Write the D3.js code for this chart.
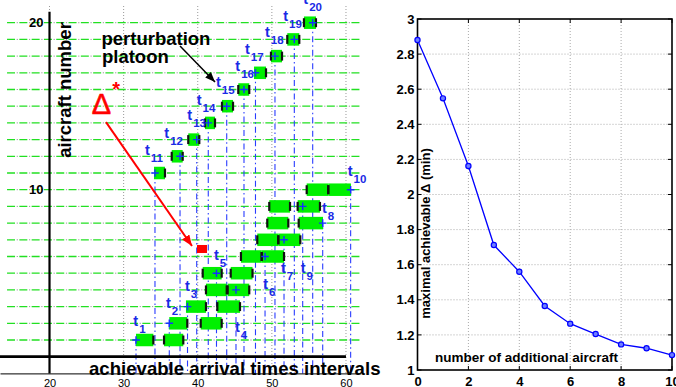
<!DOCTYPE html>
<html><head><meta charset="utf-8">
<script src="https://cdn.jsdelivr.net/npm/d3@7"></script>
<style>
body{margin:0;background:#fff;}
svg{display:block;font-family:"Liberation Sans",Arial,sans-serif;}
</style></head><body>
<svg id="c" width="676" height="387"></svg>
<script>
// ---------- Left panel data (aircraft number vs achievable arrival times) ----------
const aircraft = [1,2,3,4,5,6,7,8,9,10,11,12,13,14,15,16,17,18,19,20];
const assignedTime = [31.67,36.16,38.62,45.16,42.53,49.08,51.64,56.86,54.16,60.63,
                      34.23,37.61,39.86,41.42,43.91,46.24,47.79,50.42,53.03,55.51];
const interval1Start = [31.67,36.16,38.41,41.11,40.67,45.83,48.03,49.38,49.65,54.70,
                        34.10,36.49,38.72,40.98,43.27,45.47,47.59,49.88,52.08,54.33];
const interval1End   = [34.01,38.59,41.11,43.91,43.23,48.63,50.87,52.22,52.45,57.61,
                        35.58,37.97,40.21,42.33,44.76,46.95,49.21,51.37,53.70,55.95];
const interval2Start = [35.45,40.40,42.64,44.04,44.45,48.63,50.87,53.62,53.48,57.61,
                        null,null,null,null,null,null,null,null,null,null];
const interval2End   = [38.05,43.23,45.70,46.95,47.39,51.64,53.84,56.90,56.49,60.67,
                        null,null,null,null,null,null,null,null,null,null];
const labelX = [31.31,35.72,38.28,45.03,42.19,48.84,51.23,56.76,53.89,60.23,
                32.88,35.49,38.59,39.86,42.46,45.07,46.37,49.07,51.54,54.24];
const labelY = [1.84,2.92,3.93,1.50,5.82,4.05,5.01,8.62,5.03,10.82,
                12.08,13.08,14.17,15.07,16.15,17.13,18.13,19.13,20.12,21.12];
const leftXTicks = [20,30,40,50,60];
const leftYTicks = [10,20];
const redArrowX = [27.62,39.22], redArrowY = [14.05,6.63];
const blackArrowX = [37.61,42.33], blackArrowY = [18.60,16.45];
const perturbX = [39.90,41.25], perturbY = 6.45;

// ---------- Right panel data ----------
const additional = [0,1,2,3,4,5,6,7,8,9,10];
const maxDelta = [2.88,2.548,2.162,1.712,1.56,1.365,1.264,1.205,1.146,1.124,1.085];
const rightXTicks = [0,2,4,6,8,10];
const rightYTicks = [1,1.2,1.4,1.6,1.8,2,2.2,2.4,2.6,2.8,3];

const svg = d3.select("#c");
const defs = svg.append("defs");
defs.append("marker").attr("id","redHead").attr("markerUnits","userSpaceOnUse")
  .attr("viewBox","0 0 10 8").attr("refX",10).attr("refY",4)
  .attr("markerWidth",11).attr("markerHeight",9).attr("orient","auto")
  .append("path").attr("d","M0,0L10,4L0,8Z").attr("fill","#ff0000");
defs.append("marker").attr("id","blackHead").attr("markerUnits","userSpaceOnUse")
  .attr("viewBox","0 0 10 8").attr("refX",10).attr("refY",4)
  .attr("markerWidth",10).attr("markerHeight",8).attr("orient","auto")
  .append("path").attr("d","M0,0L10,4L0,8Z").attr("fill","#000");

// ---------- Left panel ----------
const xL = d3.scaleLinear().domain([13.32,62]).range([0,360.8]);
const yL = d3.scaleLinear().domain([-1,21]).range([373.4,6.0]);
const L = svg.append("g");

// vertical dotted grid
L.selectAll(".vg").data(leftXTicks).join("line")
  .attr("x1",d=>xL(d)).attr("x2",d=>xL(d)).attr("y1",yL(21)).attr("y2",yL(-1))
  .attr("stroke","#999").attr("stroke-dasharray","1,2").attr("stroke-width",1);

// horizontal row lines (gray dots + green dashes)
L.selectAll(".hg").data(aircraft).join("line")
  .attr("x1",xL(14.27)).attr("x2",xL(62)).attr("y1",d=>yL(d)).attr("y2",d=>yL(d))
  .attr("stroke","#999").attr("stroke-width",1).attr("stroke-dasharray","0,9.65,1.2,1.45");
L.selectAll(".hgg").data(aircraft).join("line")
  .attr("x1",xL(14.27)).attr("x2",xL(62)).attr("y1",d=>yL(d)).attr("y2",d=>yL(d))
  .attr("stroke","#22e022").attr("stroke-width",1.3).attr("stroke-dasharray","8,4.3");

// blue dash-dot verticals from assigned times
L.selectAll(".tv").data(aircraft).join("line")
  .attr("x1",(d,i)=>xL(assignedTime[i])).attr("x2",(d,i)=>xL(assignedTime[i]))
  .attr("y1",d=>yL(d)).attr("y2",yL(-1))
  .attr("stroke","#2a3cff").attr("stroke-width",1.1).attr("stroke-dasharray","6,3,1.5,3");

// axes lines
L.append("line").attr("x1",xL(20)).attr("x2",xL(20)).attr("y1",yL(20.65)).attr("y2",yL(-1))
  .attr("stroke","#000").attr("stroke-width",2.2);
L.append("line").attr("x1",xL(13.32)).attr("x2",xL(60)).attr("y1",yL(0)).attr("y2",yL(0))
  .attr("stroke","#000").attr("stroke-width",2.7);

// x axis (thin bottom line + labels)
const axL = d3.axisBottom(xL).tickValues(leftXTicks).tickSize(0).tickSizeOuter(0).tickPadding(6);
const gxL = L.append("g").attr("transform",`translate(0,${yL(-1)})`).call(axL);
gxL.select(".domain").attr("stroke","#000").attr("stroke-width",1);
gxL.selectAll("text").attr("font-size",11).attr("font-family","Liberation Sans, Arial").attr("fill","#000");

const ayL = d3.axisLeft(yL).tickValues(leftYTicks).tickSize(0).tickPadding(6);
const gyL = L.append("g").attr("transform",`translate(${xL(20)},0)`).call(ayL);
gyL.select(".domain").remove();
gyL.selectAll("text").attr("font-size",13).attr("font-weight","bold").attr("font-family","Liberation Sans, Arial").attr("fill","#000");

// bars
const barH = 12.5;
const bars = [];
aircraft.forEach((a,i)=>{
  bars.push({a, s:interval1Start[i], e:interval1End[i], t:assignedTime[i]});
  if(interval2Start[i]!==null) bars.push({a, s:interval2Start[i], e:interval2End[i], t:assignedTime[i]});
});
L.selectAll(".bar").data(bars).join("rect")
  .attr("x",d=>xL(d.s)).attr("width",d=>xL(d.e)-xL(d.s))
  .attr("y",d=>yL(d.a)-barH/2).attr("height",barH).attr("fill","#00f000");
const ends = [];
bars.forEach(b=>{
  [b.s,b.e].forEach(v=>{ if(Math.abs(v-b.t)>0.35) ends.push({a:b.a, v}); });
});
L.selectAll(".tk").data(ends).join("line")
  .attr("x1",d=>xL(d.v)).attr("x2",d=>xL(d.v)).attr("y1",d=>yL(d.a)-4.5).attr("y2",d=>yL(d.a)+4.5)
  .attr("stroke","#111").attr("stroke-width",2.2);
// plus markers
L.selectAll(".pl").data(aircraft).join("path")
  .attr("d",(d,i)=>{const x=xL(assignedTime[i]), y=yL(d); return `M${x-3.8},${y}H${x+3.8}M${x},${y-3.8}V${y+3.8}`;})
  .attr("stroke","#1530ff").attr("stroke-width",1.4).attr("fill","none");

// t labels
const lab = L.selectAll(".lab").data(aircraft).join("text")
  .attr("x",(d,i)=>xL(labelX[i])).attr("y",(d,i)=>yL(labelY[i]))
  .attr("fill","#1a2ae6").attr("font-weight","bold").attr("font-size",14.5);
lab.append("tspan").text("t");
lab.append("tspan").attr("dx",1).attr("dy",7).attr("font-size",11.5).text(d=>d);

// perturbation marker & annotations
L.append("rect").attr("x",xL(perturbX[0])).attr("width",xL(perturbX[1])-xL(perturbX[0]))
  .attr("y",yL(perturbY)-4).attr("height",8).attr("fill","#ff0000");
L.append("line").attr("x1",xL(redArrowX[0])).attr("y1",yL(redArrowY[0]))
  .attr("x2",xL(redArrowX[1])).attr("y2",yL(redArrowY[1]))
  .attr("stroke","#ff0000").attr("stroke-width",2).attr("marker-end","url(#redHead)");
L.append("line").attr("x1",xL(blackArrowX[0])).attr("y1",yL(blackArrowY[0]))
  .attr("x2",xL(blackArrowX[1])).attr("y2",yL(blackArrowY[1]))
  .attr("stroke","#000").attr("stroke-width",1.5).attr("marker-end","url(#blackHead)");
L.append("text").attr("x",xL(25.69)).attr("y",yL(14.53)).attr("font-size",29).attr("fill","#ff0000")
  .attr("stroke","#ff0000").attr("stroke-width",0.6).text("Δ");
L.append("text").attr("x",xL(28.45)).attr("y",yL(15.6)).attr("font-size",20).attr("font-weight","bold").attr("fill","#ff0000").text("*");
L.append("text").attr("x",xL(27.01)).attr("y",yL(18.66)).attr("font-size",18.5).attr("font-weight","bold").text("perturbation");
L.append("text").attr("x",xL(27.08)).attr("y",yL(17.56)).attr("font-size",18.5).attr("font-weight","bold").text("platoon");

L.append("text").attr("transform","translate(70.5,90) rotate(-90)").attr("text-anchor","middle")
  .attr("font-size",18.5).attr("font-weight","bold").text("aircraft number");
L.append("text").attr("x",89).attr("y",375).attr("font-size",18.6).attr("font-weight","bold")
  .text("achievable arrival times intervals");

// ---------- Right panel ----------
const xR = d3.scaleLinear().domain([0,10]).range([417.5,672]);
const yR = d3.scaleLinear().domain([1,3]).range([370,19]);
const R = svg.append("g");
R.selectAll(".gx").data(rightXTicks.slice(1,-1)).join("line")
  .attr("x1",d=>xR(d)).attr("x2",d=>xR(d)).attr("y1",yR(3)).attr("y2",yR(1))
  .attr("stroke","#aaa").attr("stroke-dasharray","1,2");
R.selectAll(".gy").data(rightYTicks.slice(1,-1)).join("line")
  .attr("y1",d=>yR(d)).attr("y2",d=>yR(d)).attr("x1",xR(0)).attr("x2",xR(10))
  .attr("stroke","#aaa").attr("stroke-dasharray","1,2");
// inward ticks
const tl = 4;
R.selectAll(".tb").data(rightXTicks).join("path")
  .attr("d",d=>`M${xR(d)},${yR(1)}v${-tl}M${xR(d)},${yR(3)}v${tl}`).attr("stroke","#000").attr("stroke-width",1);
R.selectAll(".tl").data(rightYTicks).join("path")
  .attr("d",d=>`M${xR(0)},${yR(d)}h${tl}M${xR(10)},${yR(d)}h${-tl}`).attr("stroke","#000").attr("stroke-width",1);
R.append("rect").attr("x",xR(0)).attr("y",yR(3)).attr("width",xR(10)-xR(0)).attr("height",yR(1)-yR(3))
  .attr("fill","none").attr("stroke","#000").attr("stroke-width",1.6);

const gxR = R.append("g").attr("transform",`translate(0,${yR(1)})`)
  .call(d3.axisBottom(xR).tickValues(rightXTicks).tickSize(0).tickPadding(7));
gxR.select(".domain").remove();
gxR.selectAll("text").attr("font-size",13).attr("font-weight","bold").attr("font-family","Liberation Sans, Arial").attr("fill","#000");
const gyR = R.append("g").attr("transform",`translate(${xR(0)},0)`)
  .call(d3.axisLeft(yR).tickValues(rightYTicks).tickSize(0).tickPadding(3).tickFormat(d=>String(+d.toFixed(1))));
gyR.select(".domain").remove();
gyR.selectAll("text").attr("font-size",13).attr("font-weight","bold").attr("font-family","Liberation Sans, Arial").attr("fill","#000");

const line = d3.line().x((d,i)=>xR(additional[i])).y(d=>yR(d));
R.append("path").datum(maxDelta).attr("d",line).attr("fill","none").attr("stroke","#0000ff").attr("stroke-width",1.3);
R.selectAll(".pt").data(maxDelta).join("circle")
  .attr("cx",(d,i)=>xR(additional[i])).attr("cy",d=>yR(d)).attr("r",2.6)
  .attr("fill","#6f7fff").attr("stroke","#0000ff").attr("stroke-width",1.2);

R.append("text").attr("transform","translate(430,233.5) rotate(-90)").attr("text-anchor","middle")
  .attr("font-size",13).attr("font-weight","bold").text("maximal achievable Δ (min)");
R.append("text").attr("x",435).attr("y",361.7).attr("font-size",13.5).attr("font-weight","bold")
  .text("number of additional aircraft");
</script>
</body></html>
